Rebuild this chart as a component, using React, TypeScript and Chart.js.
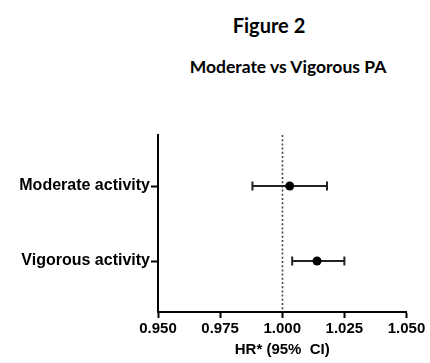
import React, { useEffect, useRef } from "react";
import { Chart, registerables } from "chart.js";

Chart.register(...registerables);

const categories = ["Moderate activity", "Vigorous activity"];
const categoryPos = [2, 1];
const hr = [1.003, 1.014];
const ciLow = [0.988, 1.004];
const ciHigh = [1.018, 1.025];
const xTicks = [0.95, 0.975, 1.0, 1.025, 1.05];
const refValue = 1.0;
const figureTitle = "Figure 2";
const figureSubtitle = "Moderate vs Vigorous PA";
const xAxisTitle = "HR* (95%  CI)";

const W = 430;
const H = 363;
const AXIS_FONT = "'Liberation Sans', Arial, sans-serif";

const forestPlugin = {
  id: "forest",
  beforeDatasetsDraw(chart: any) {
    const { ctx, chartArea, scales } = chart;
    const xs = scales.x;
    const ys = scales.y;
    ctx.save();
    // dotted reference line
    const rx = Math.round(xs.getPixelForValue(refValue)) + 0.5;
    ctx.strokeStyle = "#444";
    ctx.lineWidth = 1.6;
    ctx.setLineDash([2, 2.2]);
    ctx.beginPath();
    ctx.moveTo(rx, chartArea.top);
    ctx.lineTo(rx, chartArea.bottom);
    ctx.stroke();
    ctx.setLineDash([]);
    // error bars
    ctx.strokeStyle = "#222";
    ctx.lineWidth = 2;
    for (let i = 0; i < hr.length; i++) {
      const y = ys.getPixelForValue(categoryPos[i]);
      const x0 = xs.getPixelForValue(ciLow[i]);
      const x1 = xs.getPixelForValue(ciHigh[i]);
      ctx.beginPath();
      ctx.moveTo(x0, y);
      ctx.lineTo(x1, y);
      ctx.moveTo(x0, y - 4.5);
      ctx.lineTo(x0, y + 4.5);
      ctx.moveTo(x1, y - 4.5);
      ctx.lineTo(x1, y + 4.5);
      ctx.stroke();
    }
    ctx.restore();
  },
};

export default function App() {
  const ref = useRef<HTMLCanvasElement | null>(null);

  useEffect(() => {
    if (!ref.current) return;
    const chart = new Chart(ref.current, {
      type: "scatter",
      data: {
        datasets: [
          {
            data: hr.map((v, i) => ({ x: v, y: categoryPos[i] })),
            pointRadius: 4.5,
            pointHoverRadius: 4.5,
            backgroundColor: "#000",
            borderColor: "#000",
            borderWidth: 0,
          },
        ],
      },
      options: {
        animation: false,
        responsive: false,
        maintainAspectRatio: false,
        layout: { padding: { top: 135, right: 23.5, left: 0, bottom: 0 } },
        plugins: {
          legend: { display: false },
          tooltip: { enabled: false },
        },
        scales: {
          x: {
            type: "linear",
            min: xTicks[0],
            max: xTicks[xTicks.length - 1],
            afterBuildTicks: (scale: any) => {
              scale.ticks = xTicks.map((v) => ({ value: v }));
            },
            afterFit: (scale: any) => {
              scale.height = 51;
            },
            ticks: {
              callback: (v: any) => Number(v).toFixed(3),
              color: "#000",
              font: { family: AXIS_FONT, size: 15, weight: "bold" },
              padding: 2,
              maxRotation: 0,
              autoSkip: false,
            },
            grid: {
              drawOnChartArea: false,
              drawTicks: true,
              tickLength: 6,
              tickWidth: 2,
              tickColor: "#000",
            },
            border: { display: true, color: "#000", width: 2 },
            title: {
              display: true,
              text: xAxisTitle,
              color: "#000",
              font: { family: AXIS_FONT, size: 15, weight: "bold" },
              padding: { top: 0, bottom: 4 },
            },
          },
          y: {
            type: "linear",
            min: 0.32,
            max: 2.68,
            afterBuildTicks: (scale: any) => {
              scale.ticks = categoryPos.map((v) => ({ value: v }));
            },
            afterFit: (scale: any) => {
              scale.width = 158;
            },
            ticks: {
              callback: (v: any) => {
                const idx = categoryPos.indexOf(Number(v));
                return idx >= 0 ? categories[idx] : "";
              },
              color: "#000",
              font: { family: AXIS_FONT, size: 16, weight: "bold" },
              padding: 1,
              autoSkip: false,
            },
            grid: {
              drawOnChartArea: false,
              drawTicks: true,
              tickLength: 7,
              tickWidth: 2,
              tickColor: "#000",
            },
            border: { display: true, color: "#000", width: 2 },
          },
        },
      },
      plugins: [forestPlugin],
    });
    return () => chart.destroy();
  }, []);

  const titleFont = "Lato, 'Open Sans', sans-serif";

  return (
    <div
      style={{
        position: "absolute",
        left: 0,
        top: 0,
        width: W,
        height: H,
        background: "#fff",
        overflow: "hidden",
      }}
    >
      <div
        style={{
          position: "absolute",
          left: 269 - 150,
          width: 300,
          top: 25 - 14,
          height: 28,
          lineHeight: "28px",
          textAlign: "center",
          fontFamily: titleFont,
          fontWeight: 700,
          fontSize: 20,
          color: "#000",
        }}
      >
        {figureTitle}
      </div>
      <div
        style={{
          position: "absolute",
          left: 288 - 150,
          width: 300,
          top: 67 - 12,
          height: 24,
          lineHeight: "24px",
          textAlign: "center",
          fontFamily: titleFont,
          fontWeight: 700,
          fontSize: 17.5,
          color: "#000",
        }}
      >
        {figureSubtitle}
      </div>
      <canvas
        ref={ref}
        width={W}
        height={H}
        style={{ position: "absolute", left: 0, top: 0, width: W, height: H }}
      />
    </div>
  );
}
